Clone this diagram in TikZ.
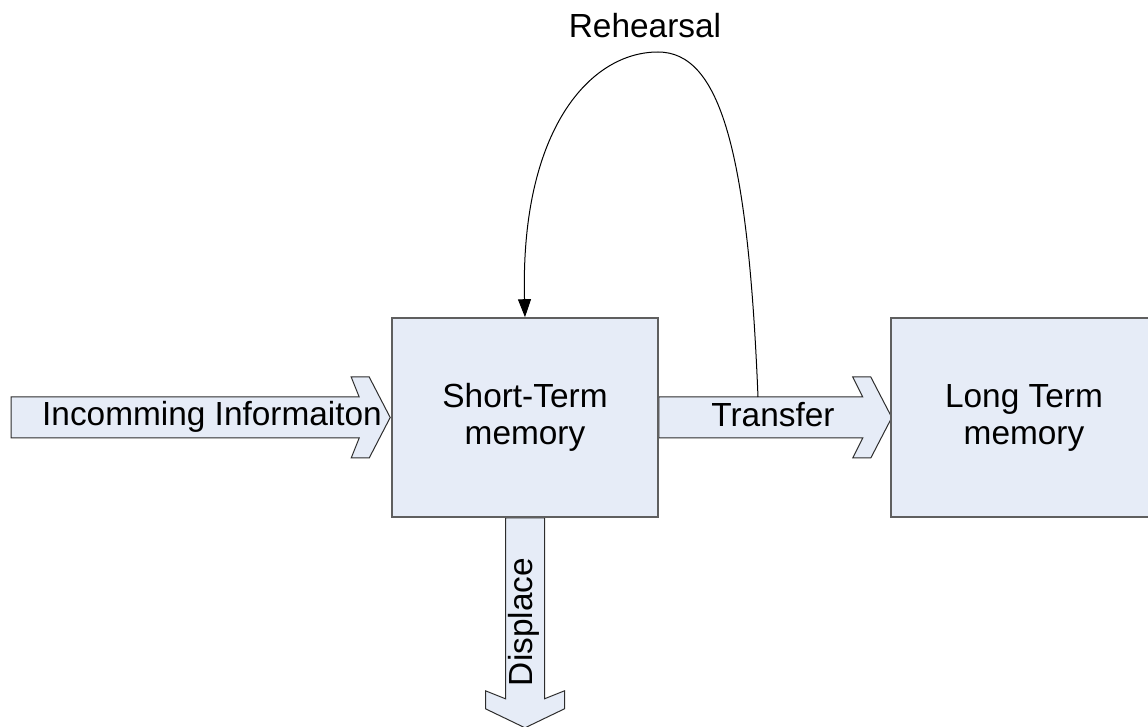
\documentclass[tikz,border=0pt]{standalone}
\usepackage{fontspec}
\setmainfont{Liberation Sans}
\usepackage{tikz}
\usetikzlibrary{arrows.meta}
\usetikzlibrary{backgrounds}
\definecolor{boxfill}{RGB}{230,236,247}
\definecolor{boxline}{RGB}{95,95,95}
\definecolor{arrline}{RGB}{45,45,45}

\tikzset{
  membox/.style={draw=boxline, line width=0.8pt, fill=boxfill, minimum width=133pt,
    minimum height=99.5pt, inner sep=0pt, align=center},
  blockarrow/.style={draw=arrline, line width=0.5pt, fill=boxfill, line join=miter},
  lbl/.style={anchor=base, inner sep=0pt}
}

\begin{document}
\begin{tikzpicture}[x=0.5pt,y=-0.5pt,font=\fontsize{16.7}{18.5}\selectfont]
\useasboundingbox (0,0) rectangle (1148,727);
\node[membox] (st) at (525,417.5) {Short-Term\\memory};
\node[membox] (lt) at (1024,417.5) {Long Term\\memory};
\begin{scope}[on background layer]
% incoming
\draw[blockarrow] (st.west) ++(-380,-20.5) -- ++(348,0) -- ++(-8,-20) -- ++(18,0) -- ++(21,40.5)
  -- ++(-21,40.5) -- ++(-18,0) -- ++(8,-20) -- ++(-348,0) -- cycle;
% transfer
\draw[blockarrow] (st.east) ++(0,-20.5) -- ++(204,0) -- ++(-10,-20) -- ++(18,0) -- ++(21,40.5)
  -- ++(-21,40.5) -- ++(-18,0) -- ++(10,-20) -- ++(-204,0) -- cycle;
% displace
\draw[blockarrow] (st.south) ++(-19.5,0) -- ++(0,181) -- ++(-20,-8) -- ++(0,18) -- ++(39.5,19)
  -- ++(39.5,-19) -- ++(0,-18) -- ++(-20,8) -- ++(0,-181) -- cycle;
\end{scope}
\node[lbl] (inc) at (212,426) {Incomming Informaiton};
\node[lbl] (tr) at (773,427) {Transfer};
\node[lbl, rotate=90] (dp) at (532,622) {Displace};
\coordinate (rh) at (758,397);
\coordinate (top) at (658,52);
\node[lbl] (rhl) at (645,38) {Rehearsal};
\draw[line width=0.5pt, -{Triangle[length=9pt,width=6.5pt]}] (rh) .. controls (748,150) and (720,52) .. (top)
  .. controls (590,52) and (520,130) .. (st.north);
\end{tikzpicture}
\end{document}
